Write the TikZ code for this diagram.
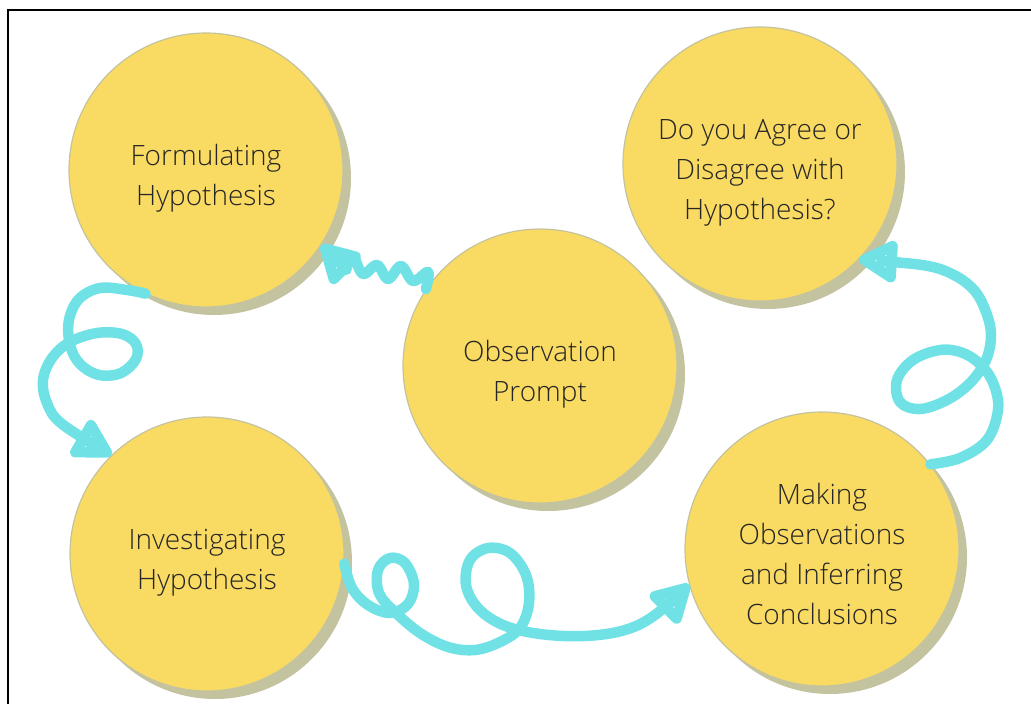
\documentclass[tikz,border=0pt]{standalone}
\usepackage{fontspec}
\setmainfont{Open Sans Light}
\usetikzlibrary{arrows.meta,shadows}
\definecolor{blobfill}{HTML}{F9DA62}
\definecolor{blobshade}{HTML}{C4C3A0}
\definecolor{swirlcol}{HTML}{70E2E5}
\definecolor{ink}{HTML}{262626}
\tikzstyle{blob} = [circle, minimum size=274pt, inner sep=0pt, fill=blobfill, draw=blobshade, line width=1.2pt, text=ink, font=\fontsize{28}{40}\selectfont, drop shadow={shadow xshift=8pt, shadow yshift=-8pt, fill=blobshade, opacity=1}]
\tikzstyle{swirly} = [swirlcol, line width=10.5pt, line cap=round, line join=round, -{Triangle[open,round,length=44pt,width=46pt]}]
% lines of a bubble, set a little below its middle
\newcommand{\blobtext}[1]{\raisebox{-7pt}[\height][\depth]{\begin{tabular}{@{}c@{}}#1\end{tabular}}}

\begin{document}
\begin{tikzpicture}[x=1pt,y=-1pt]
			\useasboundingbox (0,0) rectangle (1031,704);
			\draw[line width=1.6pt] (8,704) -- (8,10) -- (1031,10);

			\node (form) [blob] at (206,170) {\blobtext{Formulating\\Hypothesis}};
			\node (agree) [blob] at (760,164) {\blobtext{Do you Agree or\\Disagree with\\Hypothesis?}};
			\node (obs) [blob] at (540,366) {\blobtext{Observation\\Prompt}};
			\node (invest) [blob] at (207,554) {\blobtext{Investigating\\Hypothesis}};
			\node (make) [blob] at (822,549) {\blobtext{Making\\Observations\\and Inferring\\Conclusions}};

			% wiggle from the prompt up to the first step
			\draw[swirly] plot[smooth, tension=0.6] coordinates {(obs.146) (428,272) (413,281) (401,266) (388,279) (377,265) (363,274) (353,257) (342,262) (form.-33)};
			% loop down the left side
			\draw[swirly] plot[smooth, tension=0.6] coordinates {(form.-116) (127,290) (100,288) (79,299) (69,320) (70,345) (80,364) (99,375) (121,373) (136,359) (136,344) (122,334) (97,333) (70,342) (52,358) (43,380) (47,403) (62,424) (invest.134)};
			% two loops along the bottom
			\draw[swirly] plot[smooth, tension=0.6] coordinates {(invest.-4) (352,588) (368,605) (390,613) (408,604) (414,584) (405,563) (390,558) (378,570) (379,593) (395,612) (420,633) (448,647) (475,650) (500,642) (520,628) (529,603) (526,575) (510,553) (488,548) (470,560) (466,585) (478,608) (503,625) (540,634) (585,636) (625,630) (655,615) (make.-165)};
			% loop up the right side
			\draw[swirly] plot[smooth, tension=0.6] coordinates {(make.38) (960,458) (987,440) (998,410) (994,385) (982,366) (963,353) (940,350) (913,360) (897,380) (900,402) (920,409) (947,400) (970,383) (986,360) (991,335) (986,312) (974,290) (952,274) (922,265) (agree.-44)};

\end{tikzpicture}
\end{document}
